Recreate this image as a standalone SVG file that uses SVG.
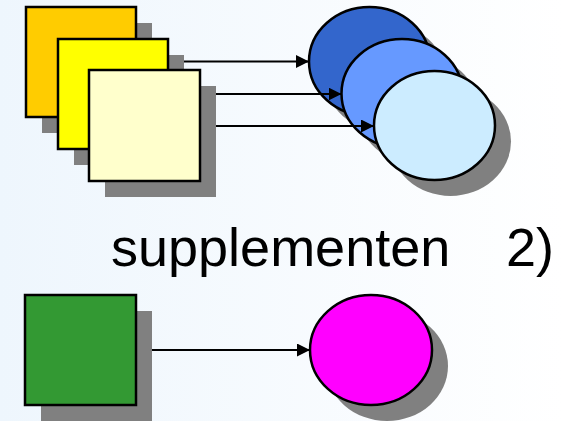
<svg xmlns="http://www.w3.org/2000/svg" width="563" height="421" viewBox="0 0 563 421">
  <defs>
    <linearGradient id="bg" x1="0" y1="0" x2="1" y2="0">
      <stop offset="0" stop-color="#EEF6FD"/>
      <stop offset="1" stop-color="#FFFFFF"/>
    </linearGradient>
    <marker id="arrow" viewBox="0 0 13 13" refX="13" refY="6.5" markerWidth="13" markerHeight="13" markerUnits="userSpaceOnUse" orient="auto">
      <path d="M0,0 L13,6.5 L0,13 Z" fill="#000"/>
    </marker>
  </defs>
  <style>
    .shape { stroke: #000; stroke-width: 2.5; }
    .shadow { fill: #808080; }
    .conn { stroke: #000; stroke-width: 2; fill: none; marker-end: url(#arrow); }
    .label { font-family: "Liberation Sans", Arial, sans-serif; font-size: 54px; fill: #000; }
  </style>
  <rect width="563" height="421" fill="url(#bg)"/>

  <g id="ellipse1">
    <ellipse class="shadow" cx="385.5" cy="77.5" rx="60.5" ry="54.5"/>
    <ellipse class="shape" cx="369.5" cy="61.5" rx="60.5" ry="54.5" fill="#3366CC"/>
  </g>
  <g id="ellipse2">
    <ellipse class="shadow" cx="418" cy="109.5" rx="60.5" ry="54.5"/>
    <ellipse class="shape" cx="402" cy="93.5" rx="60.5" ry="54.5" fill="#6699FF"/>
  </g>
  <g id="ellipse3">
    <ellipse class="shadow" cx="450.5" cy="141.5" rx="60.5" ry="54.5"/>
    <ellipse class="shape" cx="434.5" cy="125.5" rx="60.5" ry="54.5" fill="#CCECFF"/>
  </g>

  <g id="connectors">
    <line class="conn" x1="136" y1="61.5" x2="309" y2="61.5"/>
    <line class="conn" x1="168" y1="94" x2="341.5" y2="94"/>
    <line class="conn" x1="200" y1="126" x2="374" y2="126"/>
    <line class="conn" x1="136" y1="350" x2="310" y2="350"/>
  </g>

  <g id="square1">
    <rect class="shadow" x="42" y="23" width="110" height="110"/>
    <rect class="shape" x="26" y="7" width="110" height="110" fill="#FFCC00"/>
  </g>
  <g id="square2">
    <rect class="shadow" x="74" y="55" width="110" height="110"/>
    <rect class="shape" x="58" y="39" width="110" height="110" fill="#FFFF00"/>
  </g>
  <g id="square3">
    <rect class="shadow" x="105" y="86" width="111" height="111"/>
    <rect class="shape" x="89" y="70" width="111" height="111" fill="#FFFFCC"/>
  </g>

  <g id="label">
    <text class="label" x="111" y="266">supplementen</text>
    <text class="label" x="506" y="266">2)</text>
  </g>

  <g id="square4">
    <rect class="shadow" x="41" y="311" width="111" height="110"/>
    <rect class="shape" x="25" y="295" width="111" height="110" fill="#339933"/>
  </g>
  <g id="circle">
    <ellipse class="shadow" cx="387" cy="366" rx="61" ry="55"/>
    <ellipse class="shape" cx="371" cy="350" rx="61" ry="55" fill="#FF00FF"/>
  </g>
</svg>
